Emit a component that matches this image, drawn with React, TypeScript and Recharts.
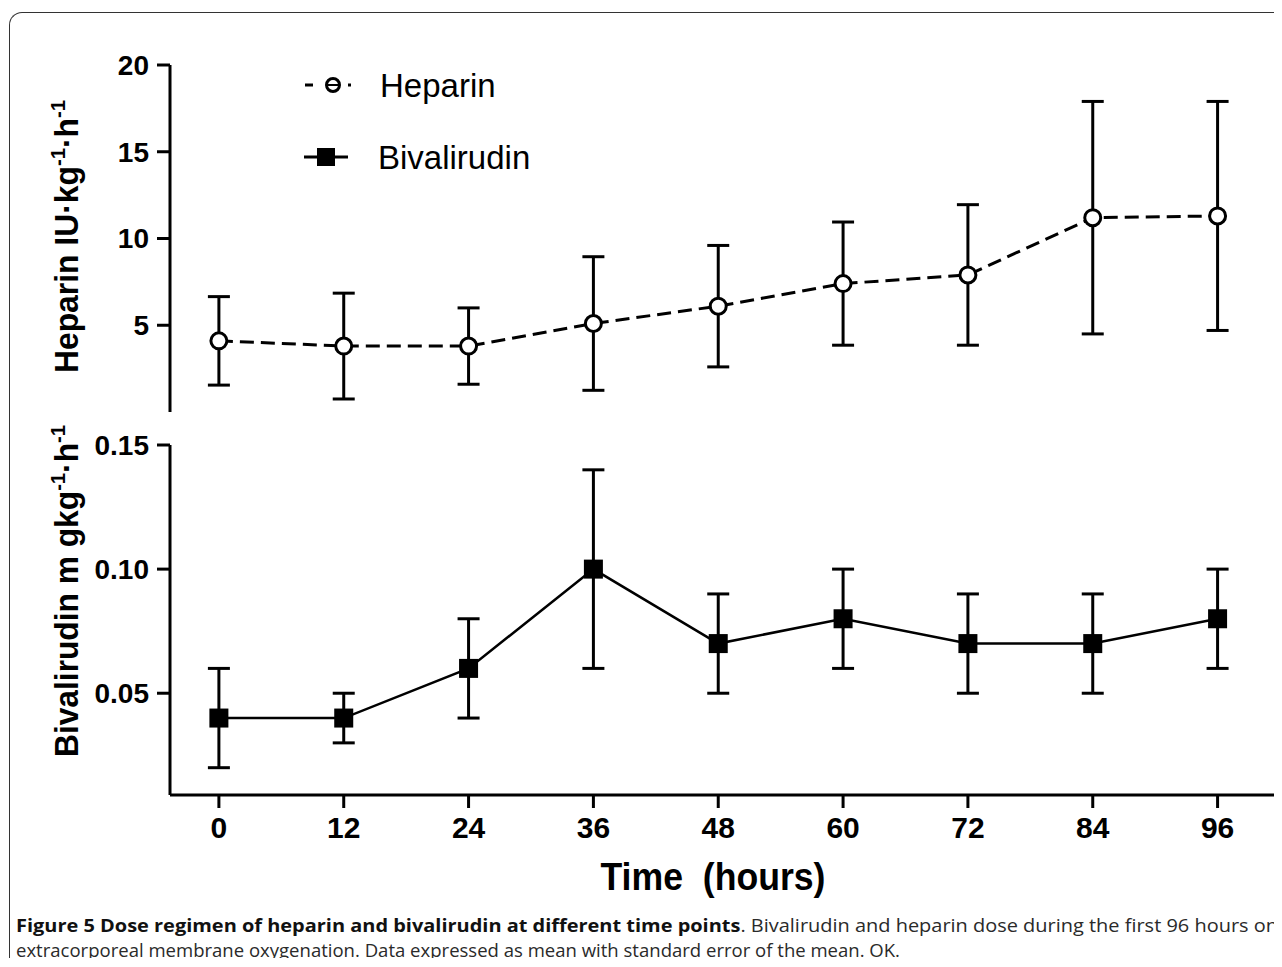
import React from 'react';
import { LineChart, Line, XAxis, YAxis, ErrorBar, Legend } from 'recharts';

const hours = [0, 12, 24, 36, 48, 60, 72, 84, 96];
const heparinMean = [4.1, 3.8, 3.8, 5.1, 6.1, 7.4, 7.9, 11.2, 11.3];
const heparinSem = [2.55, 3.05, 2.2, 3.85, 3.5, 3.55, 4.05, 6.7, 6.6];
const bivalirudinMean = [0.04, 0.04, 0.06, 0.1, 0.07, 0.08, 0.07, 0.07, 0.08];
const bivalirudinSem = [0.02, 0.01, 0.02, 0.04, 0.02, 0.02, 0.02, 0.02, 0.02];
const heparinTicks = [5, 10, 15, 20];
const bivalirudinTicks = [0.05, 0.1, 0.15];
const seriesNames = ['Heparin', 'Bivalirudin'];

const heparinData = hours.map((h, i) => ({ hour: h, value: heparinMean[i], err: heparinSem[i] }));
const bivalirudinData = hours.map((h, i) => ({ hour: h, value: bivalirudinMean[i], err: bivalirudinSem[i] }));

const X_DOMAIN = [-4.7, 102];
const ARIAL = "'Liberation Sans', Arial, sans-serif";

const axisLine = { stroke: '#000', strokeWidth: 3 };
const tickStyle = { fill: '#000', fontSize: 28, fontWeight: 'bold', fontFamily: ARIAL };

// rotated y title with superscripts, centred on the plot (plus a nudge);
// textLength squeezes it like the narrow face of the original
function YTitle({ viewBox, main, tail, shift = 0, length }: any) {
  const x = 70;
  const y = viewBox.y + viewBox.height / 2 + shift;
  return (
    <text
      x={x}
      y={y}
      transform={`rotate(-90 ${x} ${y})`}
      textAnchor="middle"
      fill="#000"
      fontFamily={ARIAL}
      fontWeight="bold"
      fontSize={33}
      textLength={length}
      lengthAdjust="spacingAndGlyphs"
    >
      {main}
      <tspan dy={-13} fontSize={21}>-1</tspan>
      <tspan dy={13}>{tail}</tspan>
      <tspan dy={-13} fontSize={21}>-1</tspan>
    </text>
  );
}

function XTitle({ viewBox }: any) {
  const x = viewBox.x + viewBox.width / 2 - 12;
  return (
    <text
      x={x}
      y={470}
      textAnchor="middle"
      fill="#000"
      fontFamily={ARIAL}
      fontWeight="bold"
      fontSize={38}
      textLength={225}
      lengthAdjust="spacingAndGlyphs"
    >
      Time{'\u00a0'} (hours)
    </text>
  );
}

const SquareDot = (props: any) => {
  const { cx, cy } = props;
  if (cx == null || cy == null) return null;
  return <rect x={cx - 9.5} y={cy - 9.5} width={19} height={19} fill="#000" />;
};

function LegendBox() {
  return (
    <div style={{ fontFamily: ARIAL, color: '#000' }}>
      {seriesNames.map((name, i) => (
        <div key={name} style={{ display: 'flex', alignItems: 'center', height: 72 }}>
          <svg width={50} height={30} style={{ flex: 'none' }}>
            {i === 0 ? (
              <g stroke="#000" strokeWidth={3}>
                <line x1={3} y1={15} x2={11} y2={15} />
                <circle cx={31} cy={15} r={6.5} fill="#fff" />
                <line x1={25} y1={15} x2={37} y2={15} strokeWidth={2} />
                <line x1={46} y1={15} x2={49} y2={15} />
              </g>
            ) : (
              <g>
                <line x1={2} y1={15} x2={46} y2={15} stroke="#000" strokeWidth={3} />
                <rect x={15} y={6} width={18} height={18} fill="#000" />
              </g>
            )}
          </svg>
          <span style={{ fontSize: 33, marginLeft: i === 0 ? 28 : 26, lineHeight: 1 }}>{name}</span>
        </div>
      ))}
    </div>
  );
}

export default function App() {
  return (
    <div style={{ position: 'relative', width: 1274, height: 950, background: '#fff' }}>
      <div
        style={{
          position: 'absolute',
          left: 1,
          top: 4,
          width: 1273,
          height: 951,
          borderTop: '1.5px solid #333',
          borderLeft: '1.5px solid #333',
          borderTopLeftRadius: 13,
          boxSizing: 'border-box',
        }}
      />

      <div style={{ position: 'absolute', left: 0, top: 0 }}>
        <LineChart width={1274} height={410} data={heparinData} margin={{ top: 57, right: 2, bottom: 6, left: 0 }}>
          <XAxis type="number" dataKey="hour" domain={X_DOMAIN} ticks={hours} hide />
          <YAxis
            type="number"
            domain={[0, 20]}
            ticks={heparinTicks}
            interval={0}
            width={162}
            axisLine={axisLine}
            tickLine={axisLine}
            tickSize={13}
            tickMargin={8}
            tick={tickStyle}
            label={(p: any) => <YTitle {...p} main="Heparin IU·kg" tail="·h" shift={-2} length={273} />}
          />
          <Legend
            layout="vertical"
            align="center"
            verticalAlign="middle"
            content={() => <LegendBox />}
            wrapperStyle={{ top: 41, left: 294, width: 320 }}
          />
          <Line
            dataKey="value"
            name={seriesNames[0]}
            stroke="#000"
            strokeWidth={3}
            strokeDasharray="14 7"
            dot={{ r: 8, fill: '#fff', stroke: '#000', strokeWidth: 3, strokeDasharray: 'none' }}
            isAnimationActive={false}
          >
            <ErrorBar dataKey="err" direction="y" width={11} stroke="#000" strokeWidth={3} isAnimationActive={false} />
          </Line>
        </LineChart>
      </div>

      <div style={{ position: 'absolute', left: 0, top: 412 }}>
        <LineChart width={1274} height={485} data={bivalirudinData} margin={{ top: 25, right: 2, bottom: 0, left: 0 }}>
          <XAxis
            type="number"
            dataKey="hour"
            domain={X_DOMAIN}
            ticks={hours}
            interval={0}
            height={110}
            axisLine={axisLine}
            tickLine={axisLine}
            tickSize={13}
            tickMargin={9}
            tick={{ ...tickStyle, fontSize: 30 }}
            label={(p: any) => <XTitle {...p} />}
          />
          <YAxis
            type="number"
            domain={[0.009, 0.15]}
            ticks={bivalirudinTicks}
            interval={0}
            width={162}
            axisLine={axisLine}
            tickLine={axisLine}
            tickSize={13}
            tickMargin={8}
            tick={tickStyle}
            tickFormatter={(v: number) => v.toFixed(2)}
            label={(p: any) => <YTitle {...p} main="Bivalirudin m gkg" tail="·h" shift={-29} length={332} />}
          />
          <Line
            dataKey="value"
            name={seriesNames[1]}
            stroke="#000"
            strokeWidth={2.5}
            dot={<SquareDot />}
            isAnimationActive={false}
          >
            <ErrorBar dataKey="err" direction="y" width={11} stroke="#000" strokeWidth={3} isAnimationActive={false} />
          </Line>
        </LineChart>
      </div>

      <svg
        width={1274}
        height={58}
        style={{ position: 'absolute', left: 0, top: 900 }}
        fontFamily="'Open Sans', sans-serif"
        fontSize={18}
        fill="#2a2a2a"
      >
        <text x={8} y={24} textLength={1262} lengthAdjust="spacingAndGlyphs">
          <tspan fontWeight="bold" fill="#111">
            Figure 5 Dose regimen of heparin and bivalirudin at different time points
          </tspan>
          <tspan>. Bivalirudin and heparin dose during the first 96 hours on</tspan>
        </text>
        <text x={8} y={49} textLength={884} lengthAdjust="spacingAndGlyphs">
          extracorporeal membrane oxygenation. Data expressed as mean with standard error of the mean. OK.
        </text>
      </svg>
    </div>
  );
}
